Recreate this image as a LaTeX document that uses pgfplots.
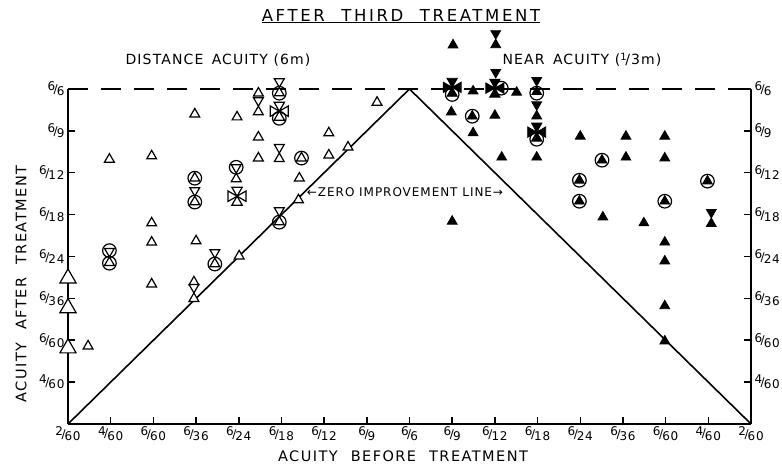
\documentclass[border=0pt]{standalone}
\usepackage{pgfplots}
\pgfplotsset{compat=1.18}
\usepackage{fontspec}
\setmainfont{DejaVu Sans}[LetterSpace=6]

% fraction-style acuity label, e.g. 6/60
\newcommand{\fr}[2]{\raisebox{0.4ex}{#1}\kern-0.12em/\kern-0.08em\raisebox{-0.35ex}{#2}}
\newcommand{\tickfont}{\fontsize{12}{12}\selectfont}

% triangle marks; mark size = triangle height
\pgfdeclareplotmark{utri}{%
  \pgfpathmoveto{\pgfqpoint{0pt}{0.667\pgfplotmarksize}}%
  \pgfpathlineto{\pgfqpoint{-0.577\pgfplotmarksize}{-0.333\pgfplotmarksize}}%
  \pgfpathlineto{\pgfqpoint{0.577\pgfplotmarksize}{-0.333\pgfplotmarksize}}%
  \pgfpathclose\pgfusepathqfillstroke}
\pgfdeclareplotmark{dtri}{%
  \pgfpathmoveto{\pgfqpoint{0pt}{-0.667\pgfplotmarksize}}%
  \pgfpathlineto{\pgfqpoint{-0.577\pgfplotmarksize}{0.333\pgfplotmarksize}}%
  \pgfpathlineto{\pgfqpoint{0.577\pgfplotmarksize}{0.333\pgfplotmarksize}}%
  \pgfpathclose\pgfusepathqfillstroke}
\pgfdeclareplotmark{hglass}{%
  \pgfpathmoveto{\pgfpointorigin}%
  \pgfpathlineto{\pgfqpoint{-0.577\pgfplotmarksize}{\pgfplotmarksize}}%
  \pgfpathlineto{\pgfqpoint{0.577\pgfplotmarksize}{\pgfplotmarksize}}%
  \pgfpathclose
  \pgfpathmoveto{\pgfpointorigin}%
  \pgfpathlineto{\pgfqpoint{-0.577\pgfplotmarksize}{-\pgfplotmarksize}}%
  \pgfpathlineto{\pgfqpoint{0.577\pgfplotmarksize}{-\pgfplotmarksize}}%
  \pgfpathclose\pgfusepathqfillstroke}
\pgfdeclareplotmark{xcross}{%
  \pgfpathmoveto{\pgfpointorigin}%
  \pgfpathlineto{\pgfqpoint{-0.577\pgfplotmarksize}{\pgfplotmarksize}}%
  \pgfpathlineto{\pgfqpoint{0.577\pgfplotmarksize}{\pgfplotmarksize}}%
  \pgfpathclose
  \pgfpathmoveto{\pgfpointorigin}%
  \pgfpathlineto{\pgfqpoint{-0.577\pgfplotmarksize}{-\pgfplotmarksize}}%
  \pgfpathlineto{\pgfqpoint{0.577\pgfplotmarksize}{-\pgfplotmarksize}}%
  \pgfpathclose
  \pgfpathmoveto{\pgfpointorigin}%
  \pgfpathlineto{\pgfqpoint{-\pgfplotmarksize}{0.577\pgfplotmarksize}}%
  \pgfpathlineto{\pgfqpoint{-\pgfplotmarksize}{-0.577\pgfplotmarksize}}%
  \pgfpathclose
  \pgfpathmoveto{\pgfpointorigin}%
  \pgfpathlineto{\pgfqpoint{\pgfplotmarksize}{0.577\pgfplotmarksize}}%
  \pgfpathlineto{\pgfqpoint{\pgfplotmarksize}{-0.577\pgfplotmarksize}}%
  \pgfpathclose\pgfusepathqfillstroke}

\pgfplotsset{
  open/.style={only marks, mark size=8.5pt, mark options={draw=black, fill=white, line width=1.2pt}},
  solid/.style={only marks, mark size=8.5pt, mark options={draw=black, fill=black, line width=0.8pt}},
  ring/.style={only marks, mark=o, mark size=6.8pt, mark options={draw=black, line width=1.2pt}},
}

\begin{document}
\begin{tikzpicture}
\useasboundingbox (-68pt,-41pt) rectangle (714pt,424pt);
\begin{axis}[
    at={(0pt,0pt)}, anchor=south west,
    scale only axis, width=683pt, height=335pt,
    xmin=0, xmax=16, ymin=0, ymax=8,
    clip=false,
    axis x line*=bottom, axis y line*=left,
    axis line style={line width=1.7pt},
    tick align=inside, major tick length=7pt,
    tick style={line width=1.5pt, black},
    xtick={0,...,16},
    xticklabels={\fr{2}{60},\fr{4}{60},\fr{6}{60},\fr{6}{36},\fr{6}{24},\fr{6}{18},\fr{6}{12},\fr{6}{9},\fr{6}{6},
                 \fr{6}{9},\fr{6}{12},\fr{6}{18},\fr{6}{24},\fr{6}{36},\fr{6}{60},\fr{4}{60},\fr{2}{60}},
    ytick={1,...,8},
    yticklabels={\fr{4}{60},\fr{6}{60},\fr{6}{36},\fr{6}{24},\fr{6}{18},\fr{6}{12},\fr{6}{9},\fr{6}{6}},
    ticklabel style={font=\tickfont},
    xticklabel style={yshift=1pt},
]

% dashed 6/6 line and zero improvement lines
\addplot[line width=2pt, dash pattern=on 20pt off 13pt] coordinates {(0,8) (16,8)};
\addplot[line width=1.6pt] coordinates {(0,0) (8,8) (16,0)};

% ---- distance acuity (open marks) ----
\addplot[open, mark=utri] coordinates {
  (0.97,6.32) (1.96,6.40) (2.97,7.40) (3.96,7.33) (4.46,7.90) (4.46,6.85) (4.46,6.35)
  (6.11,6.95) (6.11,6.42) (5.42,5.87) (7.24,7.68) (6.56,6.61) (5.40,5.35) (4.01,4.01)
  (1.96,4.80) (1.96,4.34) (1.96,3.34) (3.00,4.37) (2.95,3.39) (0.47,1.86)
  (2.97,5.87) (5.47,6.35)
};
\addplot[open, mark=utri, mark size=14pt] coordinates {(0,3.48) (0,2.77) (0,1.81)};
\addplot[open, mark=hglass] coordinates {
  (4.46,7.59) (4.95,6.47) (2.95,3.13) (2.97,5.44) (3.44,3.96)
  (4.95,8.04) (4.95,4.96) (3.94,5.99) (0.97,3.99)
};
\addplot[open, mark=xcross, mark size=9pt] coordinates {(3.96,5.44) (4.95,7.47)};
\addplot[ring] coordinates {
  (2.97,5.87) (2.97,5.30) (5.47,6.35) (3.44,3.82) (4.95,7.90)
  (4.95,4.82) (4.95,7.30) (3.94,6.13) (0.97,4.14) (0.97,3.84)
};

% ---- near acuity (filled marks) ----
\addplot[solid, mark=utri] coordinates {
  (9.02,9.05) (9.49,7.95) (10.51,7.92) (8.98,7.45) (10.00,7.37) (9.49,6.95)
  (10.16,6.37) (10.98,6.37) (9.00,4.84) (12.00,6.87) (13.07,6.87) (13.98,6.87)
  (13.07,6.37) (13.98,6.35) (12.53,4.94) (13.49,4.80) (13.98,4.34) (13.98,3.89)
  (13.98,2.82) (13.98,1.98)
  (9.47,7.35) (12.51,6.30) (11.98,5.82) (11.98,5.32) (13.98,5.32) (14.98,5.80)
};
\addplot[solid, mark=dtri] coordinates {(10.02,8.40)};
\addplot[solid, mark=hglass] coordinates {
  (10.02,9.19) (10.98,7.49) (15.07,4.92) (10.98,8.07)
};
\addplot[solid, mark=xcross, mark size=9pt] coordinates {(9.00,8.04) (10.00,8.02) (10.98,6.97)};
\addplot[ring] coordinates {
  (9.47,7.35) (12.51,6.30) (11.98,5.82) (11.98,5.32) (13.98,5.32) (14.98,5.80)
  (10.98,7.90) (10.98,6.80) (9.00,7.87) (10.15,8.02)
};
\end{axis}

% right-hand acuity scale
\begin{axis}[
    at={(0pt,0pt)}, anchor=south west,
    scale only axis, width=683pt, height=335pt,
    xmin=0, xmax=16, ymin=0, ymax=8,
    axis x line=none, axis y line*=right,
    axis line style={line width=1.7pt},
    tick align=inside, major tick length=7pt,
    tick style={line width=1.5pt, black},
    ytick={1,...,8},
    yticklabels={\fr{4}{60},\fr{6}{60},\fr{6}{36},\fr{6}{24},\fr{6}{18},\fr{6}{12},\fr{6}{9},\fr{6}{6}},
    ticklabel style={font=\tickfont},
]
\addplot[draw=none] coordinates {(16,0) (16,8)};
\end{axis}

% titles and labels
\node[font=\fontsize{16.5}{16.5}\selectfont\addfontfeature{LetterSpace=16}] at (333pt,408pt)
  {\underline{AFTER\hspace{1em}THIRD\hspace{1em}TREATMENT}};
\node[font=\fontsize{14}{14}\selectfont\addfontfeature{LetterSpace=8}] at (150pt,364pt)
  {DISTANCE\hspace{0.6em}ACUITY\hspace{0.4em}(6m)};
\node[font=\fontsize{14}{14}\selectfont\addfontfeature{LetterSpace=8}] at (514pt,364pt)
  {NEAR\hspace{0.6em}ACUITY\hspace{0.4em}(\raisebox{0.5ex}{\fontsize{10}{10}\selectfont 1}\kern-0.1em/3m)};
\node[font=\fontsize{12}{12}\selectfont\addfontfeature{LetterSpace=8}] at (337pt,232pt)
  {\char"2190 ZERO IMPROVEMENT LINE\char"2192};
\node[font=\fontsize{14.5}{14.5}\selectfont\addfontfeature{LetterSpace=10}] at (335pt,-32pt)
  {ACUITY\hspace{0.9em}BEFORE\hspace{0.9em}TREATMENT};
\node[font=\fontsize{14.5}{14.5}\selectfont\addfontfeature{LetterSpace=10}, rotate=90] at (-47pt,140pt)
  {ACUITY\hspace{0.9em}AFTER\hspace{0.9em}TREATMENT};
\end{tikzpicture}
\end{document}
